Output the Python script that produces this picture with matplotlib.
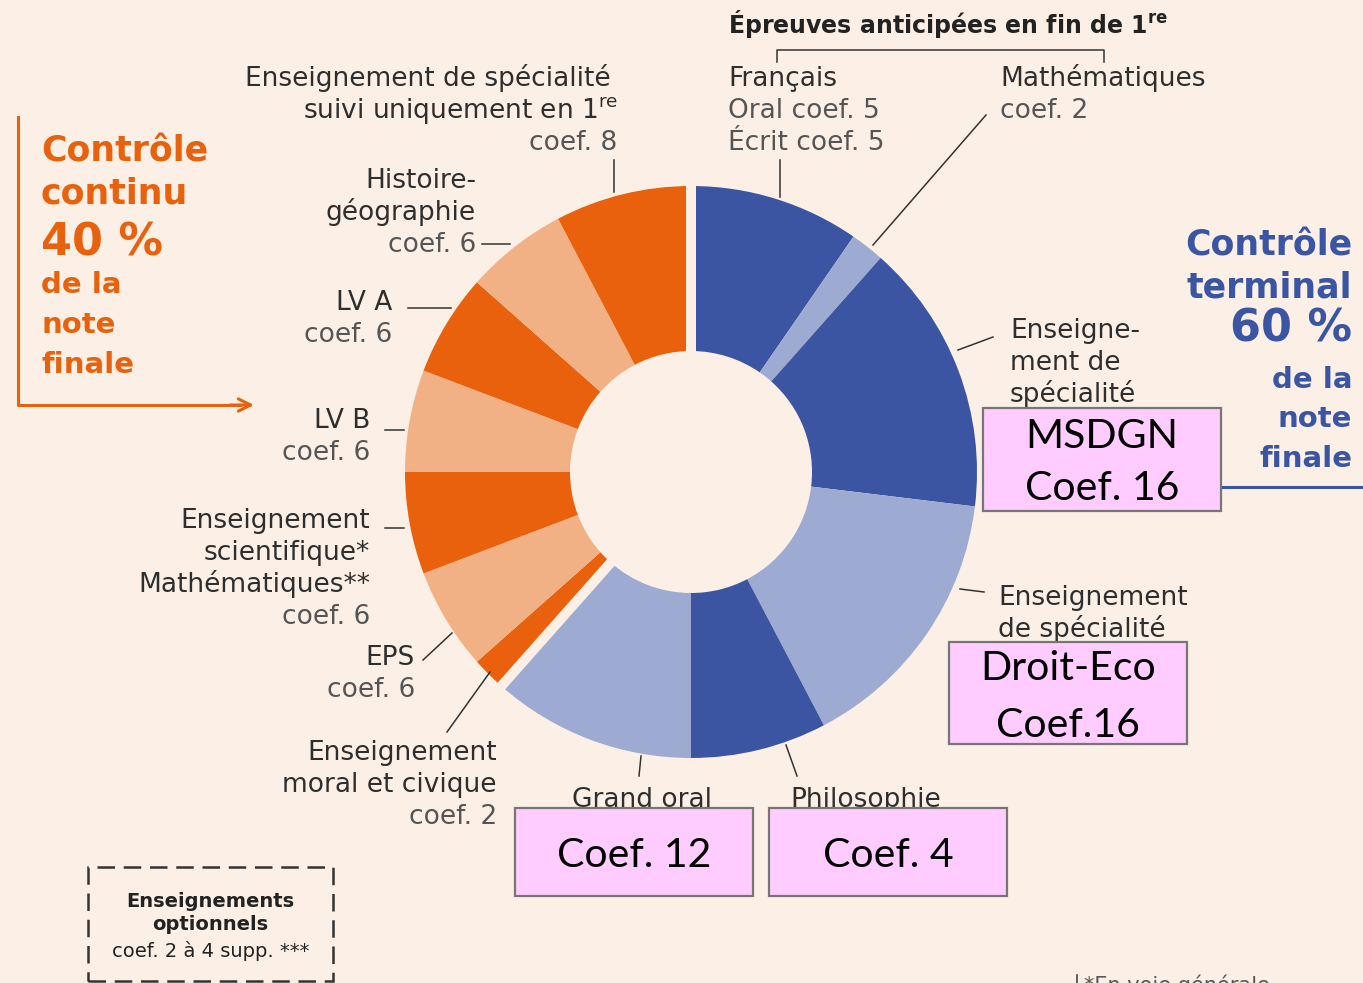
import numpy as np
import matplotlib.pyplot as plt
from matplotlib.patches import Rectangle

########## DATOS ##########
# Contrôle terminal (sentido horario desde arriba)
terminal_materias = ["Français", "Mathématiques", "Spécialité MSDGN",
                     "Spécialité Droit-Eco", "Philosophie", "Grand oral"]
francais_oral = 5
francais_ecrit = 5
terminal_coefs = [francais_oral + francais_ecrit, 2, 16, 16, 8, 12]

# Contrôle continu (sigue en sentido horario hasta volver arriba)
continu_materias = ["Enseignement moral et civique", "EPS",
                    "Enseignement scientifique", "LV B", "LV A",
                    "Histoire-géographie", "Spécialité 1re"]
continu_coefs = [2, 6, 6, 6, 6, 6, 8]

pct_terminal = 60
pct_continu = 40

# coeficientes de los recuadros rosas
coef_msdgn = 16
coef_droit = 16
coef_grand_oral = 12
coef_philo = 4

########## ESTILO ##########
fondo = "#fcf0e6"
azul_osc, azul_cla = "#3b55a2", "#9dabd2"
nar_osc, nar_cla = "#e9610c", "#f2b184"
azul_txt, nar_txt = "#3a55a3", "#e8610d"
oscuro, gris = "#2e2e2e", "#555555"

plt.rcParams['font.family'] = 'DejaVu Sans'

W, H = 1363, 983
fig = plt.figure(figsize=(W / 100, H / 100), dpi=100, facecolor=fondo)
ax = fig.add_axes([0, 0, 1, 1])
ax.set_facecolor(fondo)


def Y(y):
    # coordenadas medidas desde arriba
    return H - y


########## DONUT ##########
CX, CY, R, r = 691, 472, 286, 121
valores = terminal_coefs + continu_coefs
colores = [azul_osc, azul_cla] * 3 + [nar_osc, nar_cla] * 3 + [nar_osc]
ax.pie(valores, colors=colores, startangle=90, counterclock=False,
       radius=R, center=(CX, Y(CY)),
       wedgeprops=dict(width=R - r, linewidth=0))

# separación entre control terminal y control continu
corte = 360 * sum(terminal_coefs) / sum(valores)
for ang in [0, corte]:
    t = np.deg2rad(90 - ang)
    ax.plot([CX, CX + (R + 5) * np.cos(t)], [Y(CY), Y(CY) + (R + 5) * np.sin(t)],
            color=fondo, lw=7.2, solid_capstyle='butt', zorder=3)


########## ETIQUETAS ##########
def etiqueta(x, y, lineas, ha='left', paso=32, tam=19):
    for i, linea in enumerate(lineas):
        col = gris if linea.startswith(("coef", "Oral", "Écrit")) else oscuro
        ax.text(x, Y(y + i * paso), linea, ha=ha, va='baseline',
                fontsize=tam, color=col, zorder=3)


def trazo(xs, ys):
    ax.plot(xs, [Y(v) for v in ys], color="#333333", lw=1.1, zorder=4)


# lado derecho
ax.text(728, Y(33), "Épreuves anticipées en fin de 1$^{\\bf re}$", ha='left',
        va='baseline', fontsize=17, fontweight='bold', color="#222222")
trazo([777, 777, 1104, 1104], [62, 50, 50, 62])

etiqueta(728, 86, [terminal_materias[0], f"Oral coef. {francais_oral}",
                   f"Écrit coef. {francais_ecrit}"])
trazo([780, 780], [160, 197])
etiqueta(1000, 86, [terminal_materias[1], f"coef. {terminal_coefs[1]}"])
trazo([986, 873], [115, 245])
etiqueta(1010, 338, ["Enseigne-", "ment de", "spécialité"])
trazo([993, 958], [337, 350])
etiqueta(998, 605, ["Enseignement", "de spécialité"])
trazo([960, 984], [589, 592])
etiqueta(572, 807, [terminal_materias[5]])
trazo([641, 639], [756, 776])
etiqueta(790, 807, [terminal_materias[4]])
trazo([786, 797], [745, 776])

# lado izquierdo
ax.text(611, Y(86), "Enseignement de spécialité", ha='right', va='baseline',
        fontsize=19, color=oscuro)
ax.text(618, Y(118), "suivi uniquement en 1$^{\\rm re}$", ha='right',
        va='baseline', fontsize=19, color=oscuro)
ax.text(617, Y(150), f"coef. {continu_coefs[6]}", ha='right', va='baseline',
        fontsize=19, color=gris)
trazo([614, 614], [160, 192])
etiqueta(476, 188, ["Histoire-", "géographie", f"coef. {continu_coefs[5]}"], ha='right')
trazo([482, 510], [244, 244])
etiqueta(392, 310, [continu_materias[4], f"coef. {continu_coefs[4]}"], ha='right')
trazo([408, 451], [308, 308])
etiqueta(370, 428, [continu_materias[3], f"coef. {continu_coefs[3]}"], ha='right')
trazo([385, 404], [430, 430])
etiqueta(370, 528, ["Enseignement", "scientifique*", "Mathématiques**",
                    f"coef. {continu_coefs[2]}"], ha='right')
trazo([385, 404], [528, 528])
etiqueta(415, 665, [continu_materias[1], f"coef. {continu_coefs[1]}"], ha='right')
trazo([423, 452], [660, 633])
etiqueta(497, 760, ["Enseignement", "moral et civique",
                    f"coef. {continu_coefs[0]}"], ha='right')
trazo([447, 490], [732, 672])

########## TITULOS 40 % / 60 % ##########
bloques = [("Contrôle", 25), ("continu", 25), (f"{pct_continu} %", 32),
           ("de la", 21), ("note", 21), ("finale", 21)]
for (txt, tam), b in zip(bloques, [162, 203, 255, 293, 333, 373]):
    ax.text(41, Y(b), txt, ha='left', va='baseline', fontsize=tam,
            fontweight='bold', color=nar_txt)
ax.plot([18, 18, 240], [Y(117), Y(405), Y(405)], color=nar_txt, lw=2.2)
ax.annotate('', xy=(254, Y(405)), xytext=(230, Y(405)),
            arrowprops=dict(arrowstyle='->', color=nar_txt, lw=2.2,
                            mutation_scale=22, shrinkA=0, shrinkB=0))

bloques = [("Contrôle", 25), ("terminal", 25), (f"{pct_terminal} %", 32),
           ("de la", 21), ("note", 21), ("finale", 21)]
for (txt, tam), b in zip(bloques, [255, 297, 342, 388, 427, 467]):
    ax.text(1352, Y(b), txt, ha='right', va='baseline', fontsize=tam,
            fontweight='bold', color=azul_txt)
ax.plot([1223, 1363], [Y(487), Y(487)], color=azul_txt, lw=2.2)


########## RECUADROS ROSAS ##########
def recuadro(x0, y0, x1, y1, lineas, bases):
    ax.add_patch(Rectangle((x0, Y(y1)), x1 - x0, y1 - y0, facecolor="#ffccff",
                           edgecolor="#767676", lw=1.6, zorder=5))
    for txt, b in zip(lineas, bases):
        ax.text((x0 + x1) / 2, Y(b), txt, ha='center', va='baseline',
                fontsize=29.5, family='Lato', color='black', zorder=6)


recuadro(983, 408, 1221, 511, ["MSDGN", f"Coef. {coef_msdgn}"], [448, 500])
recuadro(949, 642, 1187, 744, ["Droit-Eco", f"Coef.{coef_droit}"], [680, 737])
recuadro(515, 808, 753, 896, [f"Coef. {coef_grand_oral}"], [867])
recuadro(769, 808, 1007, 896, [f"Coef. {coef_philo}"], [867])

########## OPCIONALES Y NOTA ##########
ax.add_patch(Rectangle((88, Y(981)), 245, 114, fill=False, edgecolor="#333333",
                       lw=1.8, ls=(0, (7, 3.5))))
ax.text(210, Y(907), "Enseignements", ha='center', va='baseline', fontsize=14,
        fontweight='bold', color="#222222")
ax.text(210, Y(930), "optionnels", ha='center', va='baseline', fontsize=14,
        fontweight='bold', color="#222222")
ax.text(211, Y(957), "coef. 2 à 4 supp. ***", ha='center', va='baseline',
        fontsize=14, color="#222222")

ax.plot([1077, 1077], [Y(975), Y(983)], color="#444444", lw=1.2)
ax.text(1084, Y(992), "*En voie générale", ha='left', va='baseline',
        fontsize=15, color="#555555")

ax.set_xlim(0, W)
ax.set_ylim(0, H)
ax.set_aspect('equal')
ax.axis('off')

plt.savefig("out.png", dpi=100, facecolor=fondo)
